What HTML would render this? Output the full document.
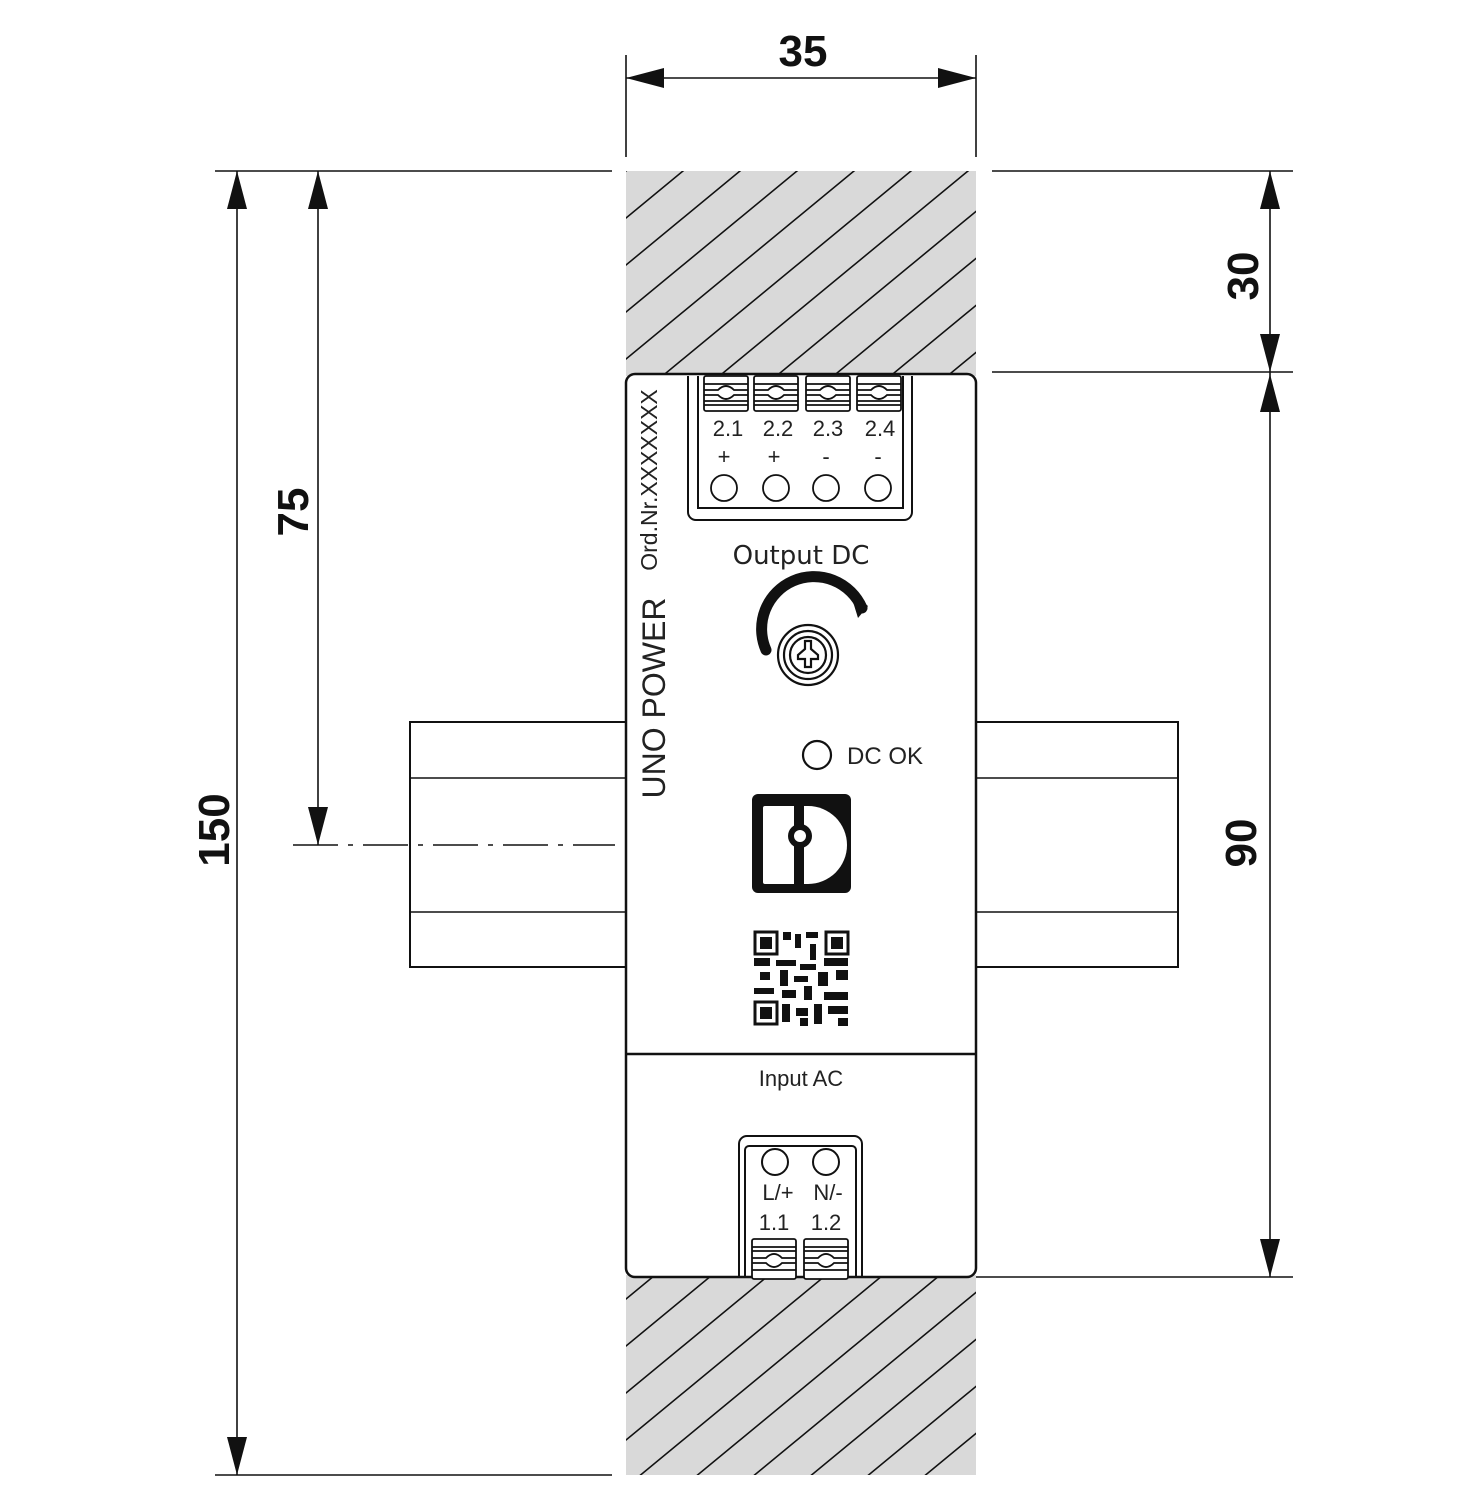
<!DOCTYPE html>
<html><head><meta charset="utf-8"><style>html,body{margin:0;padding:0;background:#fff}svg{display:block}</style></head>
<body>
<svg width="1477" height="1500" viewBox="0 0 1477 1500" xmlns="http://www.w3.org/2000/svg" font-family="Liberation Sans, sans-serif">
<defs>
<pattern id="h" patternUnits="userSpaceOnUse" x="626" y="171" width="57" height="47">
<rect width="57" height="47" fill="#d9d9d9"/>
<line x1="-57" y1="94" x2="114" y2="-47" stroke="#111" stroke-width="1.6"/>
<line x1="-57" y1="47" x2="57" y2="-47" stroke="#111" stroke-width="1.6"/>
<line x1="0" y1="94" x2="114" y2="0" stroke="#111" stroke-width="1.6"/>
</pattern>
</defs>
<rect x="626" y="171" width="350" height="205" fill="url(#h)"/>
<rect x="626" y="1275" width="350" height="200" fill="url(#h)"/>
<g fill="#fff" stroke="#111" stroke-width="2">
<rect x="410" y="722" width="216" height="245"/>
<rect x="976" y="722" width="202" height="245"/>
</g>
<g stroke="#111" stroke-width="1.5">
<line x1="410" y1="778" x2="626" y2="778"/><line x1="410" y1="912" x2="626" y2="912"/>
<line x1="976" y1="778" x2="1178" y2="778"/><line x1="976" y1="912" x2="1178" y2="912"/>
</g>
<rect x="626" y="374" width="350" height="903" rx="9" fill="#fff" stroke="#111" stroke-width="2.5"/>
<line x1="626" y1="1054" x2="976" y2="1054" stroke="#111" stroke-width="2.5"/>
<g stroke="#111" stroke-width="1.6" fill="none">
<line x1="626" y1="55" x2="626" y2="157"/><line x1="976" y1="55" x2="976" y2="157"/>
<line x1="626" y1="78" x2="976" y2="78"/>
<line x1="215" y1="171" x2="612" y2="171"/><line x1="215" y1="1475" x2="612" y2="1475"/>
<line x1="237" y1="171" x2="237" y2="1475"/>
<line x1="318" y1="171" x2="318" y2="845"/>
<line x1="293" y1="845" x2="615" y2="845" stroke-dasharray="45,10,5,10"/>
<line x1="992" y1="171" x2="1293" y2="171"/><line x1="992" y1="372" x2="1293" y2="372"/>
<line x1="976" y1="1277" x2="1293" y2="1277"/>
<line x1="1270" y1="171" x2="1270" y2="1277"/>
</g>
<g fill="#111">
<polygon points="626,78 664,68 664,88"/><polygon points="976,78 938,68 938,88"/>
<polygon points="237,171 227,209 247,209"/><polygon points="237,1475 227,1437 247,1437"/>
<polygon points="318,171 308,209 328,209"/><polygon points="318,845 308,807 328,807"/>
<polygon points="1270,171 1260,209 1280,209"/><polygon points="1270,372 1260,334 1280,334"/>
<polygon points="1270,374 1260,412 1280,412"/><polygon points="1270,1277 1260,1239 1280,1239"/>
</g>
<g font-weight="bold" font-size="44" fill="#111" text-anchor="middle">
<text x="803" y="66">35</text>
<text transform="translate(229,830) rotate(-90)">150</text>
<text transform="translate(308,512) rotate(-90)">75</text>
<text transform="translate(1258,276) rotate(-90)">30</text>
<text transform="translate(1256,843) rotate(-90)">90</text>
</g>
<g fill="none" stroke="#111" stroke-width="2">
<path d="M688,376 V512 a8,8 0 0 0 8,8 H904 a8,8 0 0 0 8,-8 V376"/>
<path d="M698,376 V508 H903 V376"/>
</g>
<g fill="#fff" stroke="#111" stroke-width="1.8">
<g id="cl"><rect x="704" y="376" width="44" height="35" rx="2"/>
<line x1="704" y1="384" x2="748" y2="384"/><line x1="704" y1="401" x2="748" y2="401"/><line x1="704" y1="405" x2="748" y2="405"/>
<path d="M704,390 H718 q8,-8 16,0 H748 M704,395 H718 q8,8 16,0 H748"/></g>
<use href="#cl" x="50"/><use href="#cl" x="102"/><use href="#cl" x="153"/>
<circle cx="724" cy="488" r="13"/><circle cx="776" cy="488" r="13"/><circle cx="826" cy="488" r="13"/><circle cx="878" cy="488" r="13"/>
</g>
<g font-size="22" fill="#222" text-anchor="middle">
<text x="728" y="436">2.1</text><text x="778" y="436">2.2</text><text x="828" y="436">2.3</text><text x="880" y="436">2.4</text>
<text x="724" y="464">+</text><text x="774" y="464">+</text><text x="826" y="464">-</text><text x="878" y="464">-</text>
<text x="801" y="564" font-size="26" font-family="DejaVu Sans, sans-serif">Output DC</text>
<text x="801" y="1086" font-size="22">Input AC</text>
<text x="778" y="1200">L/+</text><text x="828" y="1200">N/-</text>
<text x="774" y="1230">1.1</text><text x="826" y="1230">1.2</text>
</g>
<text transform="translate(657,480) rotate(-90)" font-size="23" text-anchor="middle" fill="#222">Ord.Nr.XXXXXXX</text>
<text transform="translate(665,698) rotate(-90)" font-size="32" text-anchor="middle" fill="#222">UNO POWER</text>
<path d="M766,650 A52,52 0 0 1 862,608" fill="none" stroke="#111" stroke-width="11" stroke-linecap="round"/>
<path d="M850,592 L868,606 L858,618 Z" fill="#111"/>
<g fill="none" stroke="#111" stroke-width="2.2">
<circle cx="808" cy="655" r="30"/><circle cx="808" cy="655" r="24"/><circle cx="808" cy="655" r="18"/>
<path d="M805,641 h6 v8 l7,6 v4 h-7 v8 h-6 v-8 h-7 v-4 l7,-6 z"/>
</g>
<circle cx="817" cy="755" r="14" fill="none" stroke="#111" stroke-width="2.2"/>
<text x="847" y="764" font-size="24" fill="#222">DC OK</text>
<rect x="752" y="794" width="99" height="99" rx="6" fill="#111"/>
<rect x="763" y="806" width="33" height="78" rx="2" fill="#fff"/>
<path d="M804,806 h4 a39,39 0 0 1 0,78 h-4 z" fill="#fff"/>
<rect x="794" y="800" width="10" height="88" fill="#111"/>
<circle cx="800" cy="836" r="12" fill="#111"/><circle cx="800" cy="836" r="6" fill="#fff"/>
<g fill="#111">
<rect x="754" y="931" width="95" height="95" fill="#fff"/>
<rect x="755" y="932" width="22" height="22" fill="none" stroke="#111" stroke-width="3"/><rect x="760" y="937" width="12" height="12"/>
<rect x="826" y="932" width="22" height="22" fill="none" stroke="#111" stroke-width="3"/><rect x="831" y="937" width="12" height="12"/>
<rect x="755" y="1002" width="22" height="22" fill="none" stroke="#111" stroke-width="3"/><rect x="760" y="1007" width="12" height="12"/>
<rect x="783" y="932" width="8" height="8"/><rect x="795" y="934" width="6" height="14"/><rect x="806" y="932" width="12" height="6"/><rect x="810" y="944" width="6" height="16"/>
<rect x="754" y="958" width="16" height="8"/><rect x="776" y="960" width="20" height="6"/><rect x="800" y="964" width="16" height="6"/><rect x="824" y="958" width="24" height="8"/>
<rect x="760" y="972" width="10" height="8"/><rect x="780" y="970" width="8" height="16"/><rect x="794" y="976" width="14" height="6"/><rect x="818" y="972" width="10" height="14"/><rect x="836" y="970" width="12" height="10"/>
<rect x="754" y="988" width="20" height="6"/><rect x="782" y="990" width="14" height="8"/><rect x="804" y="986" width="8" height="14"/><rect x="824" y="992" width="24" height="8"/>
<rect x="782" y="1004" width="8" height="18"/><rect x="796" y="1008" width="12" height="8"/><rect x="814" y="1004" width="8" height="20"/><rect x="828" y="1006" width="20" height="8"/><rect x="800" y="1018" width="8" height="8"/><rect x="838" y="1018" width="10" height="8"/>
</g>
<g fill="none" stroke="#111" stroke-width="2">
<path d="M739,1277 V1144 a8,8 0 0 1 8,-8 H854 a8,8 0 0 1 8,8 V1277"/>
<path d="M745,1277 V1150 a4,4 0 0 1 4,-4 H852 a4,4 0 0 1 4,4 V1277"/>
<circle cx="775" cy="1162" r="13"/><circle cx="826" cy="1162" r="13"/>
</g>
<g fill="#fff" stroke="#111" stroke-width="1.8">
<g id="cb"><rect x="752" y="1239" width="44" height="40" rx="2"/>
<line x1="752" y1="1247" x2="796" y2="1247"/><line x1="752" y1="1251" x2="796" y2="1251"/><line x1="752" y1="1270" x2="796" y2="1270"/>
<path d="M752,1258 H766 q8,-8 16,0 H796 M752,1263 H766 q8,8 16,0 H796"/></g>
<use href="#cb" x="52"/>
</g>
</svg>
</body></html>
